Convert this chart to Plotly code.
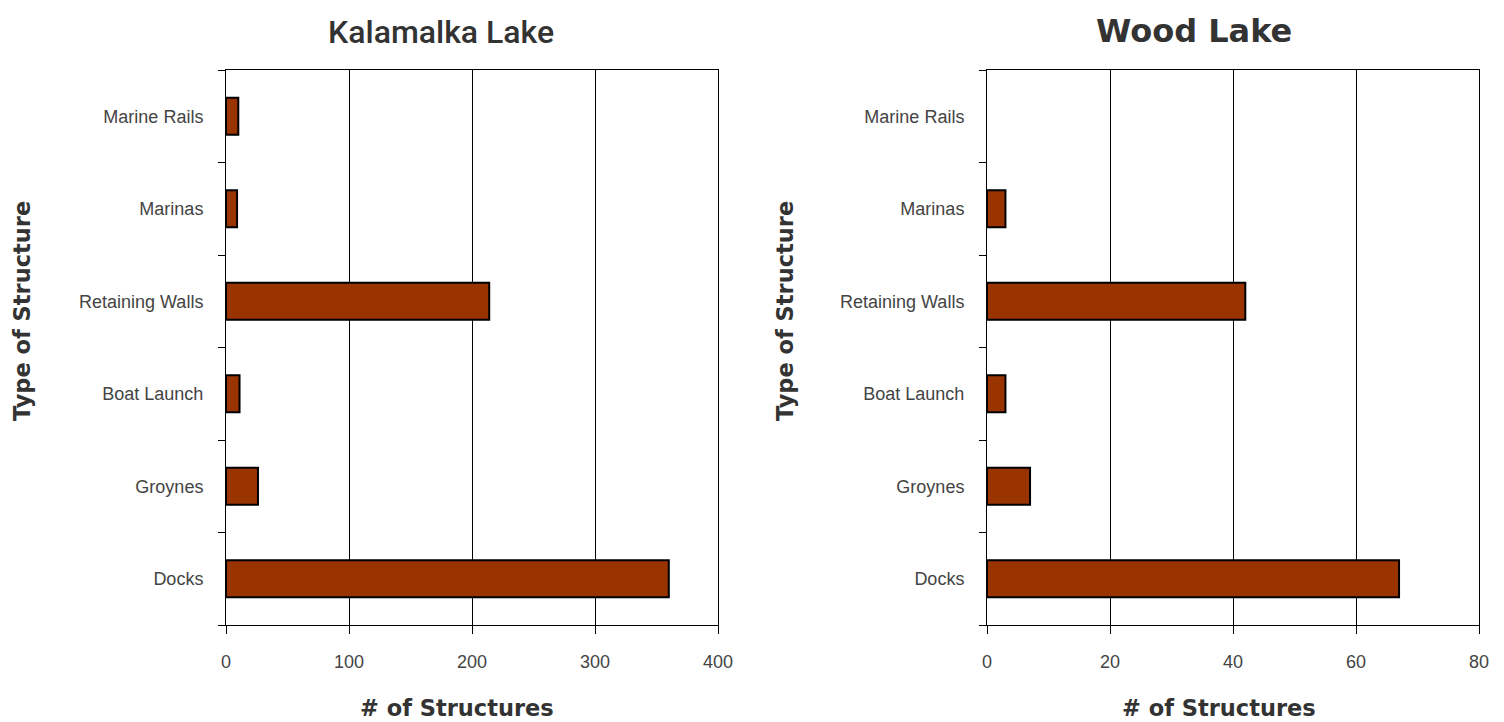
import plotly.graph_objects as go

categories = ["Docks", "Groynes", "Boat Launch", "Retaining Walls", "Marinas", "Marine Rails"]
kalamalka_values = [360, 26, 11, 214, 9, 10]
wood_values = [67, 7, 3, 42, 3, 0]
kalamalka_ticks = [0, 100, 200, 300, 400]
wood_ticks = [0, 20, 40, 60, 80]

W, H = 1504, 722
OFF = 8  # page body margin
BAR = "#993300"
TICKFONT = dict(family="Liberation Sans, Arial, sans-serif", size=18, color="#444444")
BOLD = "DejaVu Sans, Liberation Sans, Arial, sans-serif"


def px(x):
    return (x - OFF) / W


def py(y):
    return 1 - (y - OFF) / H


def edge_widths(vals):
    return [2 if v != 0 else 0 for v in vals]


fig = go.Figure()
fig.add_trace(go.Bar(y=categories, x=kalamalka_values, orientation="h", width=0.4,
                     marker=dict(color=BAR, line=dict(color="black", width=edge_widths(kalamalka_values))),
                     xaxis="x", yaxis="y", showlegend=False))
fig.add_trace(go.Bar(y=categories, x=wood_values, orientation="h", width=0.4,
                     marker=dict(color=BAR, line=dict(color="black", width=edge_widths(wood_values))),
                     xaxis="x2", yaxis="y2", showlegend=False))

ydom = [py(625), py(70)]
xdom1 = [px(226), px(718)]
xdom2 = [px(987), px(1479)]


def xaxis(dom, ticks, anchor):
    return dict(domain=dom, range=[ticks[0], ticks[-1]], tickvals=ticks, anchor=anchor,
                showgrid=True, gridcolor="black", gridwidth=1, zeroline=False,
                showline=True, linecolor="black", linewidth=1, mirror=True,
                ticks="outside", ticklen=8, tickcolor="black", automargin=False,
                tickfont=TICKFONT, ticklabelstandoff=12)


def yaxis(anchor):
    return dict(domain=ydom, anchor=anchor, type="category", categoryorder="array",
                categoryarray=categories, range=[-0.5, len(categories) - 0.5],
                showgrid=False, zeroline=False, showline=True, linecolor="black",
                linewidth=1, mirror=True, ticks="outside", tickson="boundaries",
                ticklen=7, tickcolor="black", tickfont=TICKFONT, ticklabelstandoff=18,
                automargin=False)


fig.update_layout(
    width=W, height=H, margin=dict(l=0, r=0, t=0, b=0, autoexpand=False),
    paper_bgcolor="white", plot_bgcolor="white",
    xaxis=xaxis(xdom1, kalamalka_ticks, "y"),
    yaxis=yaxis("x"),
    xaxis2=xaxis(xdom2, wood_ticks, "y2"),
    yaxis2=yaxis("x2"),
)

ann = []
ann.append(dict(text="Kalamalka Lake", x=px(441), y=py(32),
                font=dict(family="Roboto, Liberation Sans, Arial", size=32, color="#333333", weight=500)))
ann.append(dict(text="<b>Wood Lake</b>", x=px(1194), y=py(31),
                font=dict(family=BOLD, size=32, color="#333333")))
for cx in (457, 1219):
    ann.append(dict(text="<b># of Structures</b>", x=px(cx), y=py(708),
                    font=dict(family=BOLD, size=22.5, color="#333333")))
for cx in (22, 785):
    ann.append(dict(text="<b>Type of Structure</b>", x=px(cx), y=py(311), textangle=-90,
                    font=dict(family=BOLD, size=22.5, color="#333333")))
for a in ann:
    a.update(xref="paper", yref="paper", showarrow=False, xanchor="center", yanchor="middle")
fig.update_layout(annotations=ann)

fig.write_html("out.html")
